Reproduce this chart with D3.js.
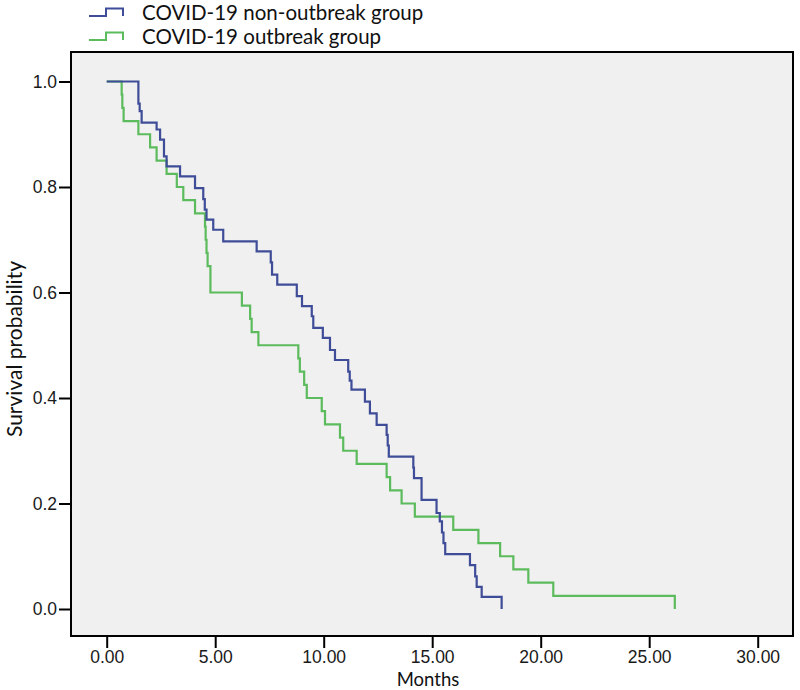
<!DOCTYPE html>
<html>
<head>
<meta charset="utf-8">
<script src="https://cdn.jsdelivr.net/npm/d3@7"></script>
<style>
  body { margin: 0; background: #fff; }
  svg { display: block; }
</style>
</head>
<body>
<div id="chart"></div>
<script>
// Kaplan-Meier estimates (months, survival after each event)
const groupNames = ["COVID-19 non-outbreak group", "COVID-19 outbreak group"];

const nonOutbreakTimes = [0, 1.46, 1.52, 1.61, 2.30, 2.46, 2.64, 2.76, 3.38, 4.07, 4.45, 4.52, 4.60, 4.91, 5.37,
  6.91, 7.56, 7.62, 7.86, 8.76, 9.00, 9.45, 9.52, 9.96, 10.29, 10.52, 11.13, 11.20, 11.28, 11.90, 12.13,
  12.44, 12.90, 12.95, 13.00, 14.13, 14.16, 14.51, 15.20, 15.35, 15.45, 15.52, 15.60, 16.74, 16.98, 17.05,
  17.28, 18.20];
const nonOutbreakSurv = [1, 0.958, 0.944, 0.922, 0.909, 0.890, 0.858, 0.839, 0.820, 0.798, 0.777, 0.757, 0.738, 0.719, 0.697,
  0.678, 0.657, 0.634, 0.615, 0.593, 0.574, 0.555, 0.533, 0.514, 0.491, 0.472, 0.450, 0.433, 0.416, 0.393, 0.371,
  0.349, 0.330, 0.310, 0.289, 0.268, 0.248, 0.207, 0.182, 0.166, 0.145, 0.125, 0.104, 0.083, 0.062, 0.042,
  0.023, 0];

const outbreakTimes = [0, 0.69, 0.72, 0.78, 1.46, 2.00, 2.30, 2.76, 3.23, 3.53, 4.07, 4.53, 4.56, 4.60, 4.65, 4.78,
  6.23, 6.61, 6.68, 6.99, 8.83, 8.90, 9.10, 9.22, 9.91, 10.06, 10.75, 10.90, 11.52, 12.90, 13.06, 13.59,
  14.20, 15.97, 17.13, 18.13, 18.74, 19.43, 20.58, 26.18];
const outbreakSurv = [1, 0.975, 0.95, 0.925, 0.9, 0.875, 0.85, 0.825, 0.8, 0.775, 0.75, 0.725, 0.7, 0.675, 0.65, 0.6,
  0.575, 0.55, 0.525, 0.5, 0.475, 0.45, 0.425, 0.4, 0.375, 0.35, 0.325, 0.3, 0.275, 0.25, 0.225, 0.2,
  0.175, 0.15, 0.125, 0.1, 0.075, 0.05, 0.025, 0];

const xTicks = [0, 5, 10, 15, 20, 25, 30];
const yTicks = [0, 0.2, 0.4, 0.6, 0.8, 1.0];
const colors = ["#3f4c98", "#5cbb5c"];

const width = 800, height = 690;
const frame = {left: 71, right: 793, top: 52, bottom: 636};

const svg = d3.select("#chart").append("svg")
    .attr("width", width)
    .attr("height", height);

const x = d3.scaleLinear().domain([0, 30]).range([106.7, 757.7]);
const y = d3.scaleLinear().domain([0, 1]).range([609, 81.5]);

// plot background
svg.append("rect")
    .attr("x", frame.left)
    .attr("y", frame.top)
    .attr("width", frame.right - frame.left)
    .attr("height", frame.bottom - frame.top)
    .attr("fill", "#f0f0f0");

// axes
const xAxis = svg.append("g")
    .attr("transform", "translate(0," + frame.bottom + ")")
    .call(d3.axisBottom(x).tickValues(xTicks).tickFormat(d3.format(".2f")).tickSize(12).tickPadding(3));
const yAxis = svg.append("g")
    .attr("transform", "translate(" + frame.left + ",0)")
    .call(d3.axisLeft(y).tickValues(yTicks).tickFormat(d3.format(".1f")).tickSize(12).tickPadding(2));

[xAxis, yAxis].forEach(g => {
    g.select(".domain").remove();
    g.selectAll("line").attr("stroke", "#000").attr("stroke-width", 2);
    g.selectAll("text")
        .attr("fill", "#1a1a1a")
        .style("font-family", "'Liberation Sans', Arial, sans-serif")
        .style("font-size", "17.5px");
});

// frame
svg.append("rect")
    .attr("x", frame.left)
    .attr("y", frame.top)
    .attr("width", frame.right - frame.left)
    .attr("height", frame.bottom - frame.top)
    .attr("fill", "none")
    .attr("stroke", "#000")
    .attr("stroke-width", 2);

// survival curves
const line = d3.line()
    .x(d => x(d[0]))
    .y(d => y(d[1]))
    .curve(d3.curveStepAfter);

const series = [
    d3.zip(nonOutbreakTimes, nonOutbreakSurv),
    d3.zip(outbreakTimes, outbreakSurv)
];

// draw outbreak first so the non-outbreak curve sits on top
[1, 0].forEach(i => {
    svg.append("path")
        .attr("d", line(series[i]))
        .attr("fill", "none")
        .attr("stroke", colors[i])
        .attr("stroke-width", 2.2);
});

// axis titles
svg.append("text")
    .attr("x", 428)
    .attr("y", 686)
    .attr("text-anchor", "middle")
    .style("font-family", "Lato, sans-serif")
    .style("font-size", "18.5px")
    .attr("fill", "#111")
    .text("Months");

svg.append("text")
    .attr("transform", "translate(22,349) rotate(-90)")
    .attr("text-anchor", "middle")
    .style("font-family", "Lato, sans-serif")
    .style("font-size", "21px")
    .attr("fill", "#111")
    .text("Survival probability");

// legend
const legend = svg.append("g");
groupNames.forEach((name, i) => {
    const oy = i * 24;
    legend.append("path")
        .attr("d", "M89," + (16 + oy) + "H106V" + (8.5 + oy) + "H123V" + (16 + oy))
        .attr("fill", "none")
        .attr("stroke", colors[i])
        .attr("stroke-width", 2);
    legend.append("text")
        .attr("x", 142)
        .attr("y", 20 + oy)
        .style("font-family", "Lato, sans-serif")
        .style("font-size", "20.5px")
        .attr("fill", "#111")
        .text(name);
});
</script>
</body>
</html>
